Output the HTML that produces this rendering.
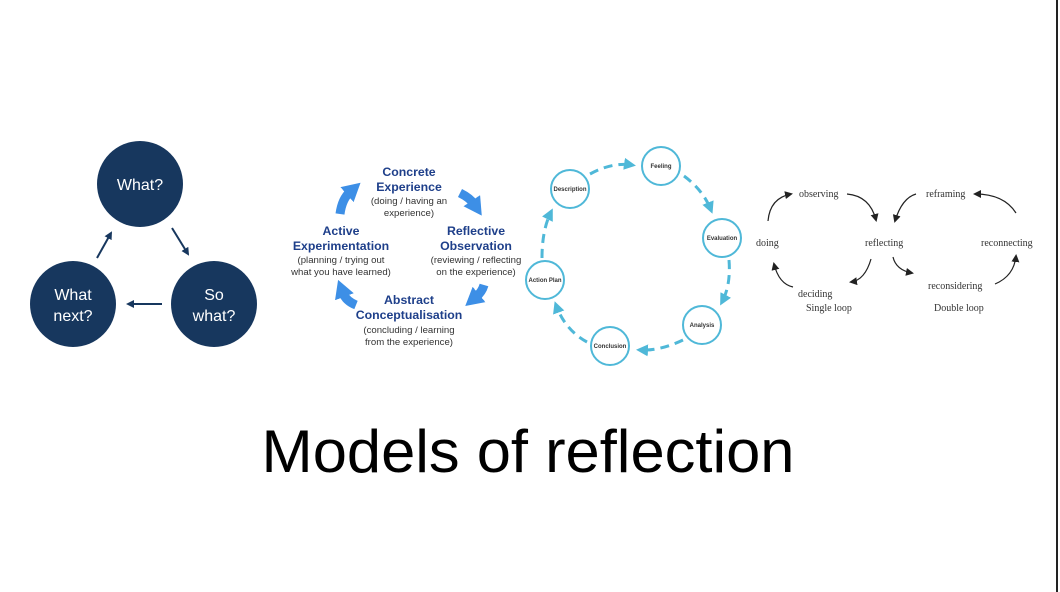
<!DOCTYPE html>
<html><head><meta charset="utf-8"><style>
html,body{margin:0;padding:0;background:#fff;}
body{width:1060px;height:592px;overflow:hidden;position:relative;}
</style></head><body>
<svg width="1060" height="592" viewBox="0 0 1060 592" xmlns="http://www.w3.org/2000/svg" style="position:absolute;left:0;top:0">
<defs>
<marker id="nav" markerWidth="8" markerHeight="8" refX="6" refY="4" orient="auto" markerUnits="userSpaceOnUse"><path d="M0,0 L8,4 L0,8 z" fill="#17375e"/></marker>
<marker id="cy" markerWidth="12" markerHeight="12" refX="8" refY="6" orient="auto" markerUnits="userSpaceOnUse"><path d="M0,0 L12,6 L0,12 z" fill="#4fb8d8"/></marker>
<marker id="bk" markerWidth="8" markerHeight="8" refX="6" refY="4" orient="auto" markerUnits="userSpaceOnUse"><path d="M0,0 L8,4 L0,8 z" fill="#222"/></marker>
<marker id="bl" markerWidth="18" markerHeight="20" refX="4" refY="10" orient="auto" markerUnits="userSpaceOnUse"><path d="M0,0 L18,10 L0,20 z" fill="#3d8fe6"/></marker>
</defs>
<rect x="1056" y="0" width="2" height="592" fill="#222"/>
<g fill="#17375e">
<circle cx="140" cy="184" r="43"/><circle cx="73" cy="304" r="43"/><circle cx="214" cy="304" r="43"/>
</g>
<g fill="#fff" font-family="Liberation Sans, sans-serif" font-size="16" text-anchor="middle">
<text x="140" y="190">What?</text>
<text x="73" y="300">What</text><text x="73" y="321">next?</text>
<text x="214" y="300">So</text><text x="214" y="321">what?</text>
</g>
<g stroke="#17375e" stroke-width="2" fill="none">
<line x1="172" y1="228" x2="188" y2="254" marker-end="url(#nav)"/>
<line x1="162" y1="304" x2="128" y2="304" marker-end="url(#nav)"/>
<line x1="97" y1="258" x2="111" y2="233" marker-end="url(#nav)"/>
</g>
<g font-family="Liberation Sans, sans-serif" text-anchor="middle" fill="#1e3f8a">
<g font-weight="bold" font-size="12.3">
<text x="409" y="176">Concrete</text><text x="409" y="191">Experience</text>
<text x="476" y="235">Reflective</text><text x="476" y="250">Observation</text>
<text x="341" y="235">Active</text><text x="341" y="250">Experimentation</text>
<text x="409" y="304">Abstract</text><text x="409" y="319">Conceptualisation</text>
</g>
<g font-size="9.6" fill="#333">
<text x="409" y="204">(doing / having an</text><text x="409" y="216">experience)</text>
<text x="476" y="263">(reviewing / reflecting</text><text x="476" y="275">on the experience)</text>
<text x="341" y="263">(planning / trying out</text><text x="341" y="275">what you have learned)</text>
<text x="409" y="333">(concluding / learning</text><text x="409" y="345">from the experience)</text>
</g>
</g>
<g stroke="#3d8fe6" stroke-width="9" fill="none">
<path d="M340,214 Q342,199 350,192" marker-end="url(#bl)"/>
<path d="M460,193 Q470,198 474,204" marker-end="url(#bl)"/>
<path d="M484,285 Q482,292 476,297" marker-end="url(#bl)"/>
<path d="M356,305 Q346,301 343,293" marker-end="url(#bl)"/>
</g>
<g stroke="#4fb8d8" stroke-width="3" fill="none" stroke-dasharray="9,6">
<path d="M590,174 Q612,162 632,165" marker-end="url(#cy)"/>
<path d="M684,176 Q703,190 711,210" marker-end="url(#cy)"/>
<path d="M729,260 Q731,285 722,302" marker-end="url(#cy)"/>
<path d="M683,340 Q660,351 640,350" marker-end="url(#cy)"/>
<path d="M587,342 Q565,330 556,305" marker-end="url(#cy)"/>
<path d="M542,258 Q542,230 551,212" marker-end="url(#cy)"/>
</g>
<g stroke="#4fb8d8" stroke-width="2" fill="#fff">
<circle cx="661" cy="166" r="19"/><circle cx="570" cy="189" r="19"/><circle cx="722" cy="238" r="19"/>
<circle cx="545" cy="280" r="19"/><circle cx="702" cy="325" r="19"/><circle cx="610" cy="346" r="19"/>
</g>
<g font-family="Liberation Sans, sans-serif" font-size="6" font-weight="bold" fill="#333" text-anchor="middle">
<text x="661" y="168">Feeling</text><text x="570" y="191">Description</text><text x="722" y="240">Evaluation</text>
<text x="545" y="282">Action Plan</text><text x="702" y="327">Analysis</text><text x="610" y="348">Conclusion</text>
</g>
<g font-family="Liberation Serif, serif" font-size="10" fill="#333">
<text x="799" y="197">observing</text><text x="926" y="197">reframing</text>
<text x="756" y="246">doing</text><text x="865" y="246">reflecting</text><text x="981" y="246">reconnecting</text>
<text x="798" y="297">deciding</text><text x="928" y="289">reconsidering</text>
<text x="806" y="311">Single loop</text><text x="934" y="311">Double loop</text>
</g>
<g stroke="#222" stroke-width="1.2" fill="none">
<path d="M768,221 Q770,198 791,194" marker-end="url(#bk)"/>
<path d="M847,194 Q870,196 876,220" marker-end="url(#bk)"/>
<path d="M916,194 Q902,198 895,221" marker-end="url(#bk)"/>
<path d="M1016,213 Q1004,194 975,194" marker-end="url(#bk)"/>
<path d="M871,259 Q865,280 851,282" marker-end="url(#bk)"/>
<path d="M793,287 Q779,284 774,264" marker-end="url(#bk)"/>
<path d="M893,257 Q896,270 912,273" marker-end="url(#bk)"/>
<path d="M995,284 Q1014,276 1016,256" marker-end="url(#bk)"/>
</g>
<text x="528" y="472" font-family="Liberation Sans, sans-serif" font-size="60" fill="#000" text-anchor="middle" textLength="533" lengthAdjust="spacingAndGlyphs">Models of reflection</text>
</svg>
</body></html>
